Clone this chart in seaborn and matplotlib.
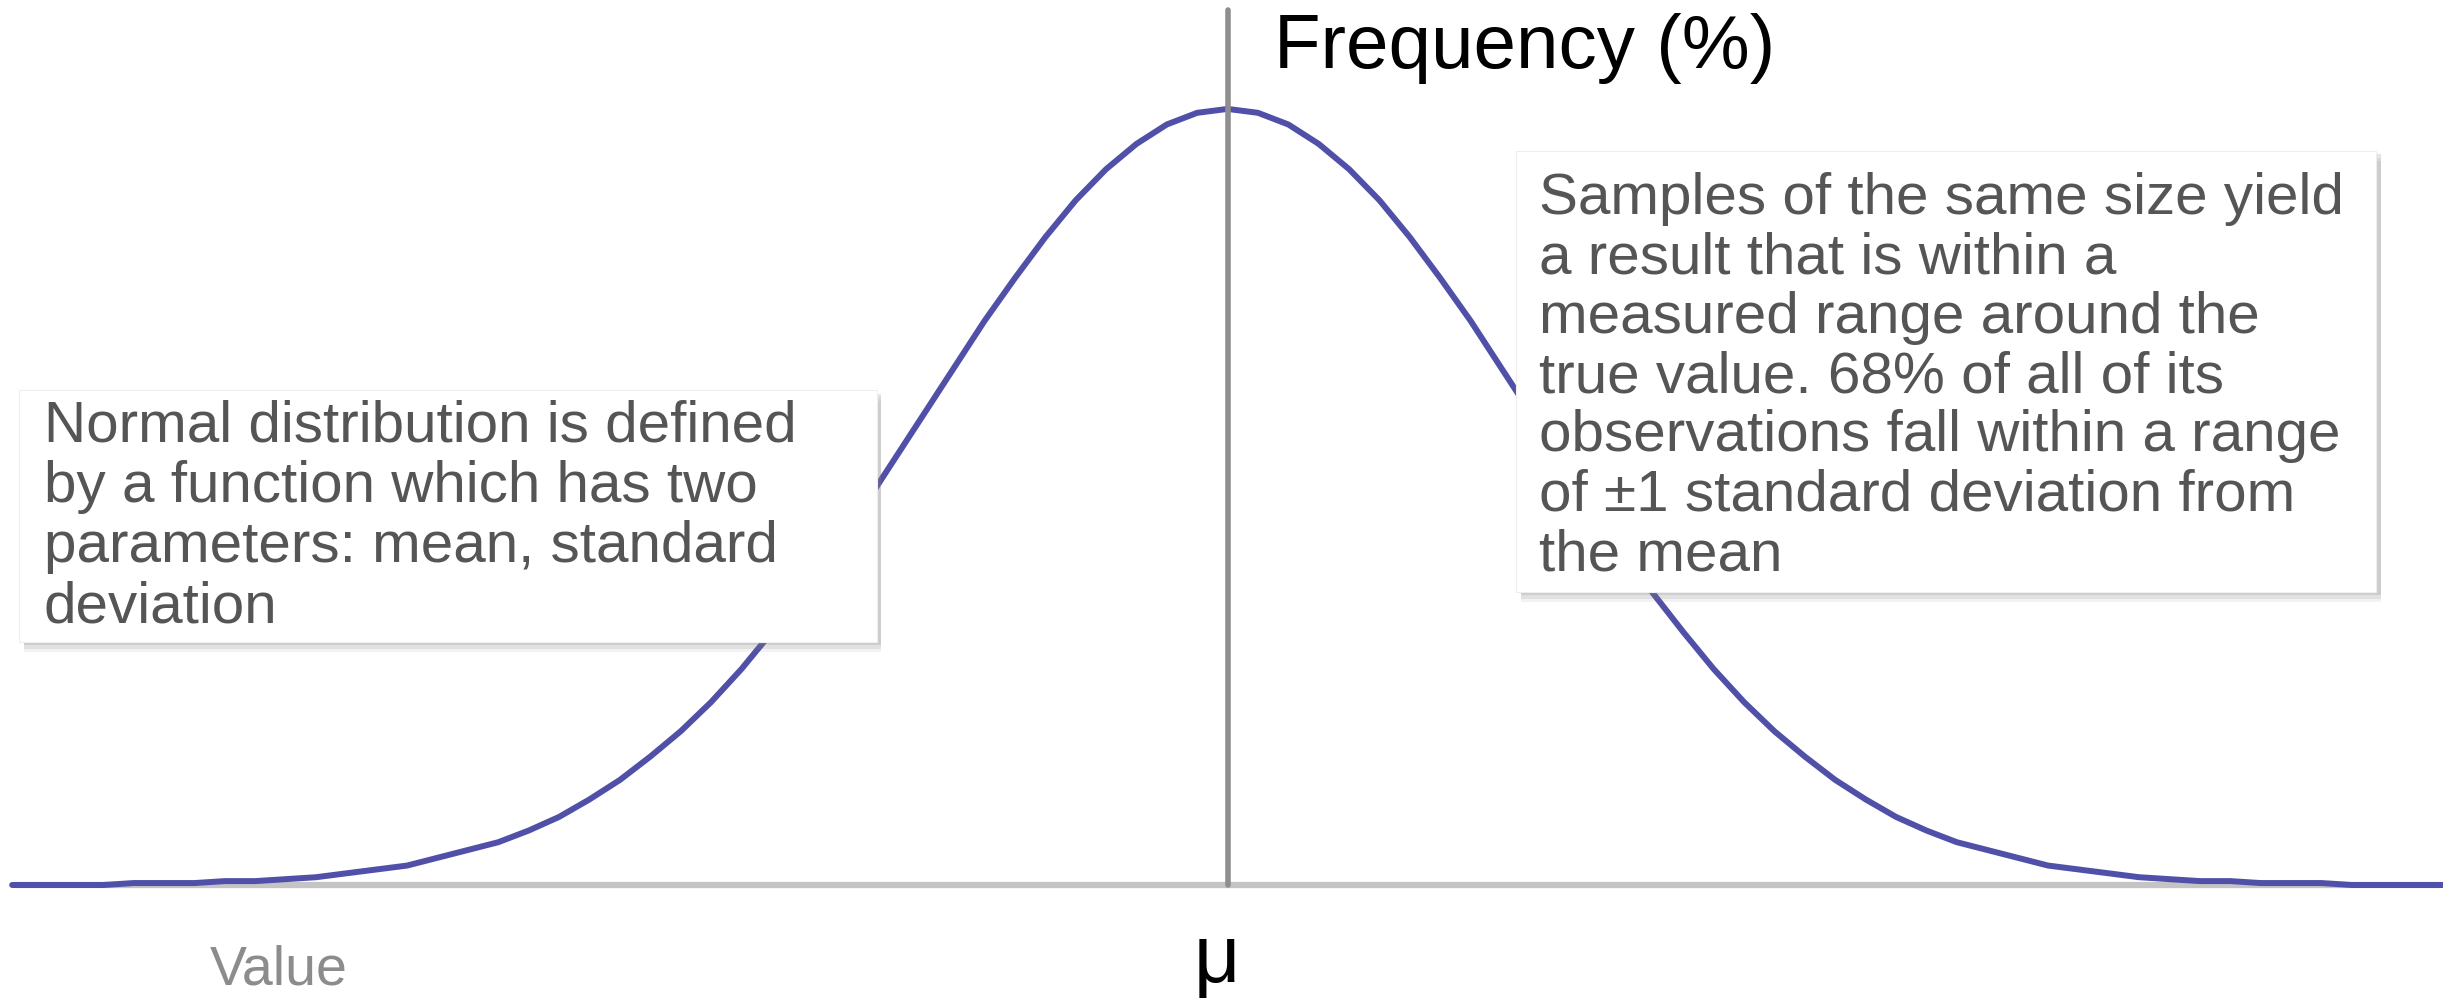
import seaborn as sns
import matplotlib.pyplot as plt
from matplotlib.patches import Rectangle
import pandas as pd

# values: position in standard deviations from the mean, frequency in %
z_scores = [-4.0, -3.9, -3.8, -3.7, -3.6, -3.5, -3.4, -3.3, -3.2, -3.1,
            -3.0, -2.9, -2.8, -2.7, -2.6, -2.5, -2.4, -2.3, -2.2, -2.1,
            -2.0, -1.9, -1.8, -1.7, -1.6, -1.5, -1.4, -1.3, -1.2, -1.1,
            -1.0, -0.9, -0.8, -0.7, -0.6, -0.5, -0.4, -0.3, -0.2, -0.1,
            0.0,
            0.1, 0.2, 0.3, 0.4, 0.5, 0.6, 0.7, 0.8, 0.9, 1.0,
            1.1, 1.2, 1.3, 1.4, 1.5, 1.6, 1.7, 1.8, 1.9, 2.0,
            2.1, 2.2, 2.3, 2.4, 2.5, 2.6, 2.7, 2.8, 2.9, 3.0,
            3.1, 3.2, 3.3, 3.4, 3.5, 3.6, 3.7, 3.8, 3.9, 4.0]
frequency = [0.0, 0.0, 0.0, 0.0, 0.1, 0.1, 0.1, 0.2, 0.2, 0.3,
             0.4, 0.6, 0.8, 1.0, 1.4, 1.8, 2.2, 2.8, 3.5, 4.4,
             5.4, 6.6, 7.9, 9.4, 11.1, 13.0, 15.0, 17.1, 19.4, 21.8,
             24.2, 26.6, 29.0, 31.2, 33.3, 35.2, 36.8, 38.1, 39.1, 39.7,
             39.9,
             39.7, 39.1, 38.1, 36.8, 35.2, 33.3, 31.2, 29.0, 26.6, 24.2,
             21.8, 19.4, 17.1, 15.0, 13.0, 11.1, 9.4, 7.9, 6.6, 5.4,
             4.4, 3.5, 2.8, 2.2, 1.8, 1.4, 1.0, 0.8, 0.6, 0.4,
             0.3, 0.2, 0.2, 0.1, 0.1, 0.1, 0.0, 0.0, 0.0, 0.0]

y_label = "Frequency (%)"
x_label = "Value"
mean_label = "μ"
left_note = "Normal distribution is defined\nby a function which has two\nparameters: mean, standard\ndeviation"
right_note = ("Samples of the same size yield\na result that is within a\nmeasured range around the\n"
              "true value. 68% of all of its\nobservations fall within a range\n"
              "of ±1 standard deviation from\nthe mean")

df = pd.DataFrame({"z": z_scores, "freq": frequency})

sns.set_style("white")
plt.rcParams["font.family"] = ["Liberation Sans", "DejaVu Sans"]

fig = plt.figure(figsize=(24.43, 9.98), dpi=100)
ax = fig.add_axes([0, 0, 1, 1])
ax.set_xlim(-4.04, 4.0)
ax.set_ylim(-5.81, 45.5)
ax.axis("off")

# baseline and the mean line
ax.plot([-3.99, 3.99], [0, 0], color="#c4c4c4", lw=4.5, zorder=1)
ax.plot([0, 0], [0, 45.0], color="#8e8e8e", lw=4, zorder=3)

sns.lineplot(data=df, x="z", y="freq", ax=ax, color="#5050a8", lw=4.3, zorder=2)


def note_box(x0, y0, w, h):
    # soft drop shadow then the white card
    for i, a in enumerate([0.10, 0.14, 0.20]):
        off = 0.0035 * (3 - i)
        ax.add_patch(Rectangle((x0 + 0.002, y0 - off), w, h, transform=ax.transAxes,
                               facecolor="#808080", edgecolor="none", alpha=a, zorder=4))
    ax.add_patch(Rectangle((x0, y0), w, h, transform=ax.transAxes,
                           facecolor="white", edgecolor="#eeeeee", lw=0.8, zorder=5))


note_box(0.0078, 0.357, 0.351, 0.252)
note_box(0.6205, 0.407, 0.352, 0.442)

ax.text(0.018, 0.600, left_note, transform=ax.transAxes, ha="left", va="top",
        fontsize=42, color="#555555", linespacing=1.15, zorder=6)
ax.text(0.630, 0.828, right_note, transform=ax.transAxes, ha="left", va="top",
        fontsize=42, color="#555555", linespacing=1.13, zorder=6)

ax.text(0.5215, 0.932, y_label, transform=ax.transAxes, ha="left", va="baseline",
        fontsize=55, color="black")
ax.text(0.086, 0.014, x_label, transform=ax.transAxes, ha="left", va="baseline",
        fontsize=40, color="#8c8c8c")
ax.text(-0.035, -5.0, mean_label, ha="center", va="baseline",
        fontsize=58, color="black")

fig.savefig("out.png", dpi=100)
